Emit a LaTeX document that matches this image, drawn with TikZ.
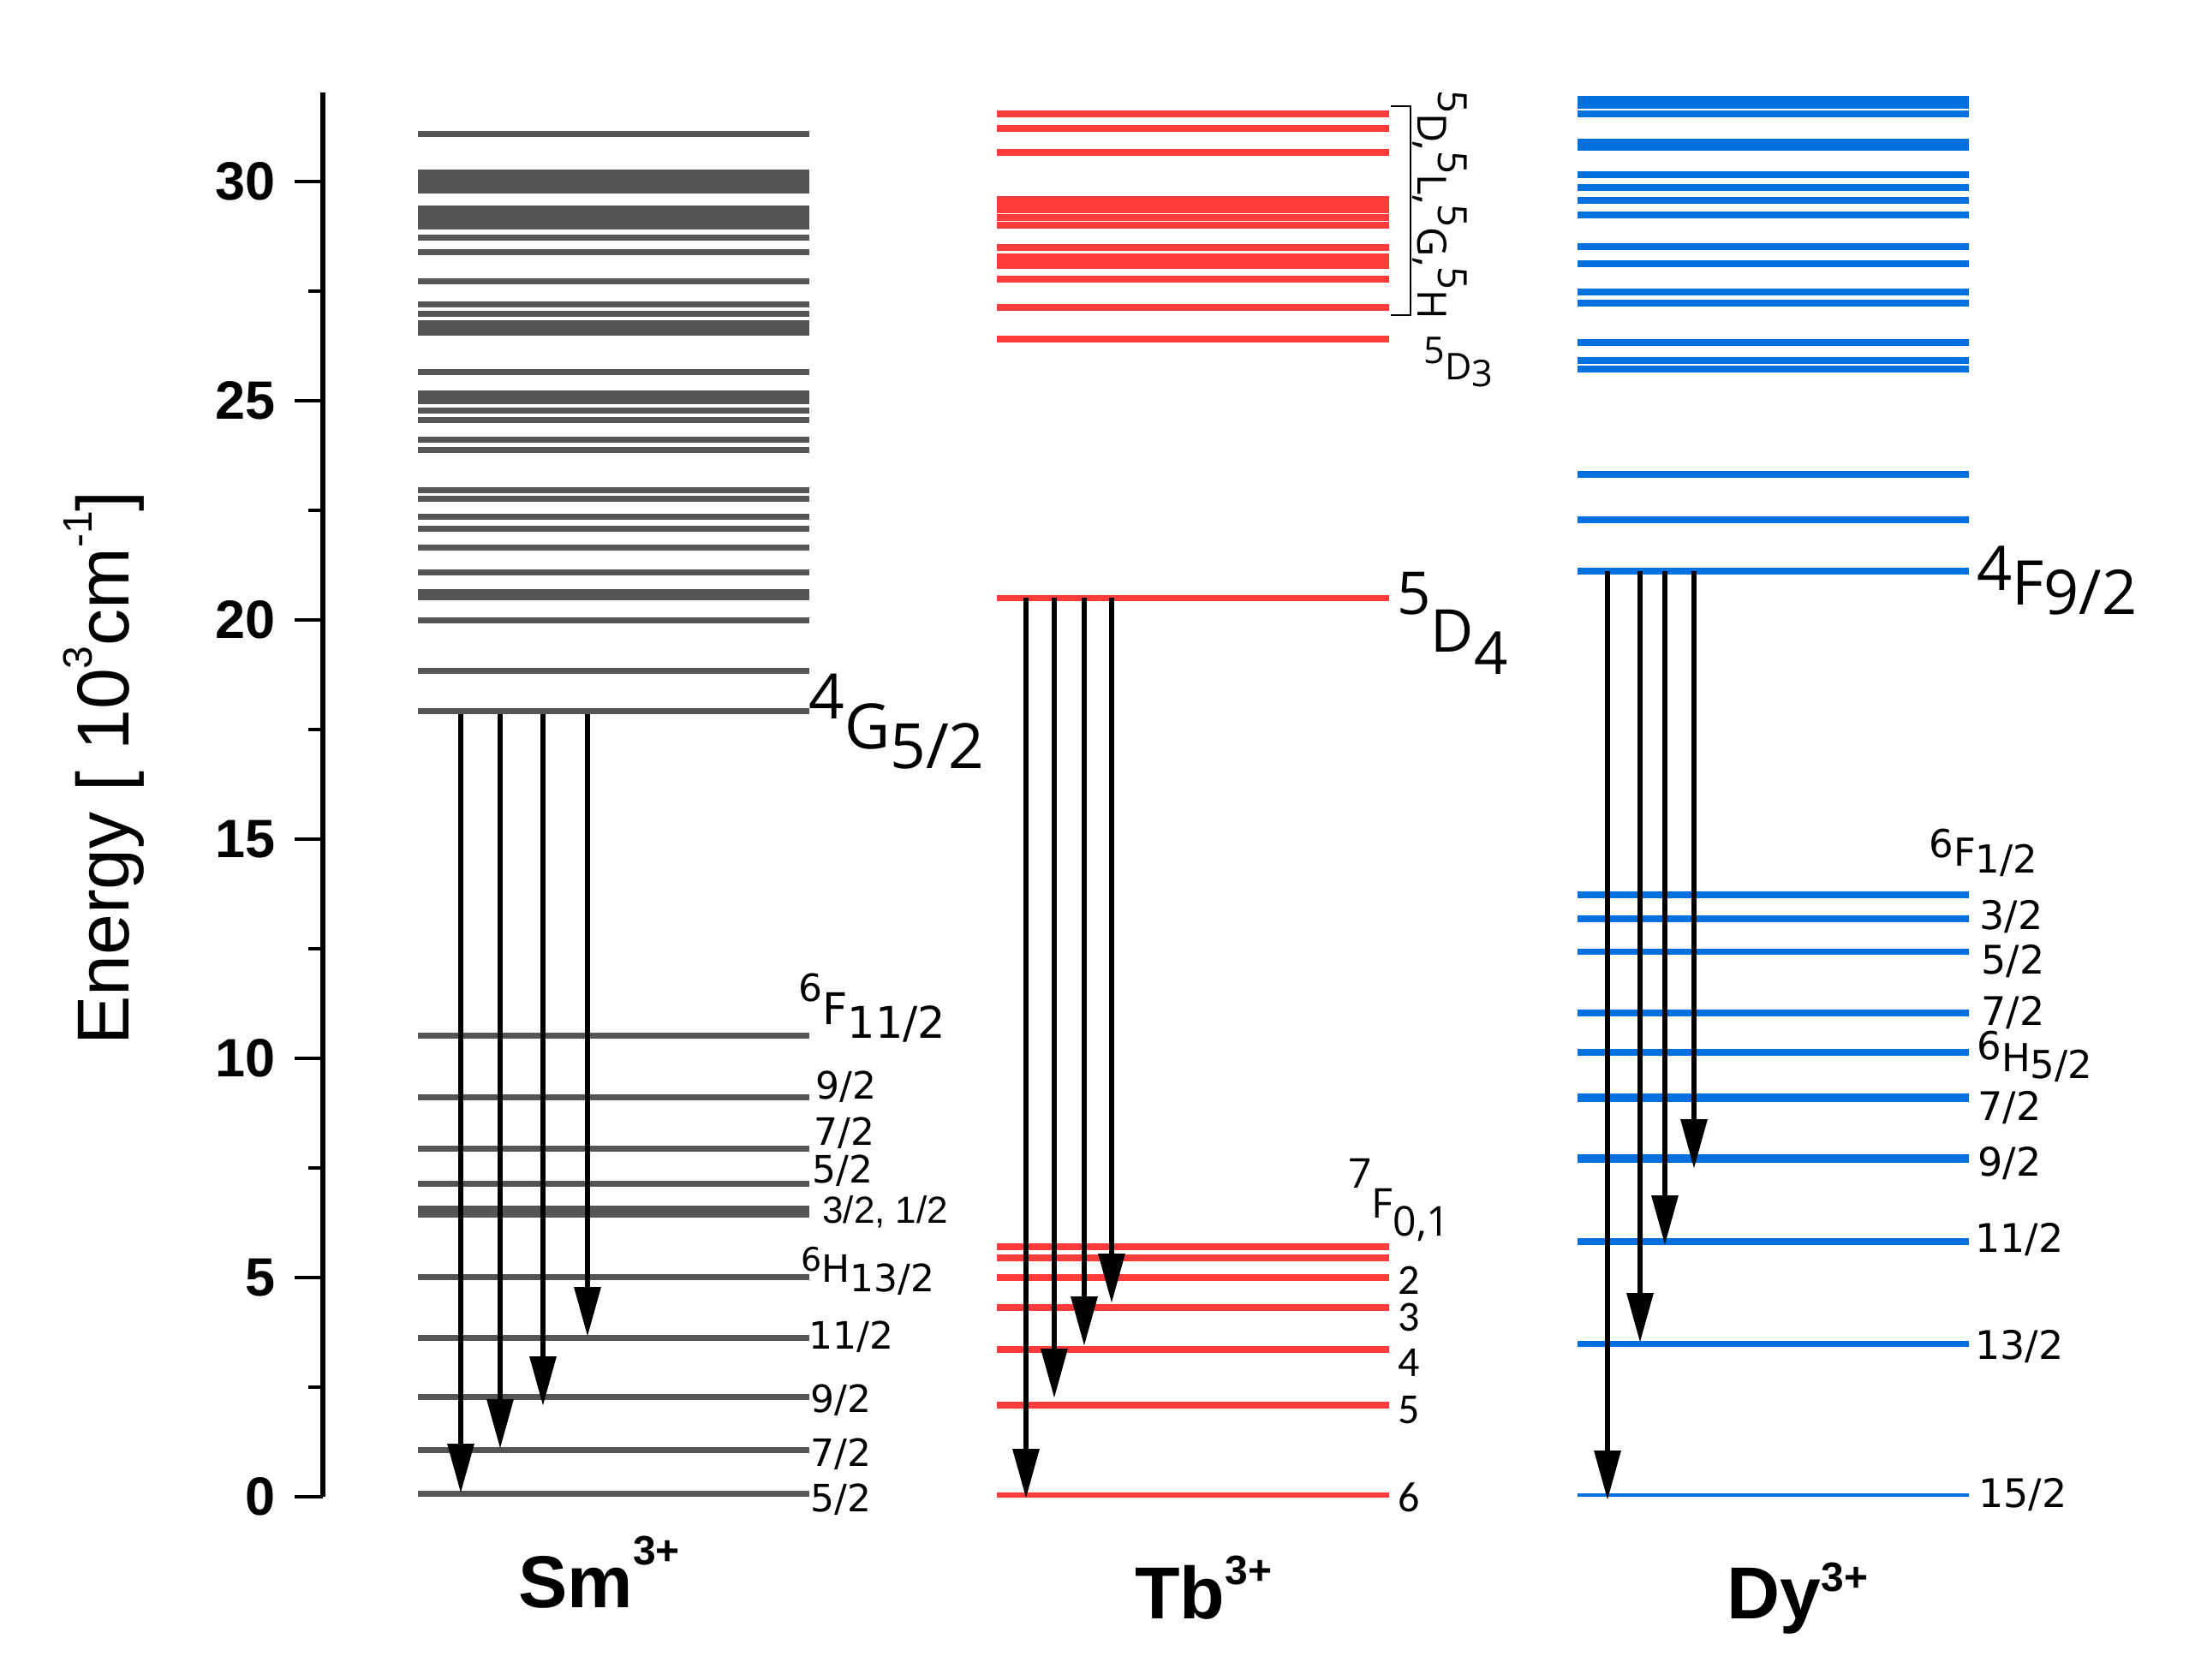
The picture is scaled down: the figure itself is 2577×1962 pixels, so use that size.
\documentclass[tikz,border=0pt]{standalone}
\usepackage{fontspec}
\usetikzlibrary{arrows.meta}
\newfontfamily\libsans{Liberation Sans}
\newfontfamily\opensans{Open Sans}
\newfontfamily\dvsans{DejaVu Sans}
\newfontfamily\carlito{Carlito}
\newcommand\fsz[1]{\fontsize{#1}{#1}\selectfont}
\definecolor{smgray}{RGB}{85,85,85}
\definecolor{tbred}{RGB}{255,60,60}
\definecolor{dyblue}{RGB}{0,112,224}
\begin{document}
\begin{tikzpicture}[x=0.5pt,y=-0.5pt,
  lab/.style={inner sep=0pt, anchor=base west},
  smlev/.style={draw=smgray, line width=3.5pt},
  tblev/.style={draw=tbred, line width=3.6pt},
  dylev/.style={draw=dyblue, line width=3.7pt},
  arr/.style={line width=3.2pt, -{Triangle[length=29pt,width=15pt]}},
  smalllab/.style={lab, font=\dvsans\fsz{22}},
  dylab/.style={lab, font=\dvsans\fsz{23}},
  tbnum/.style={lab, font=\carlito\fsz{25}},
  ionlab/.style={lab, font=\libsans\bfseries\fsz{43}},
  ticklab/.style={inner sep=0pt, anchor=east, font=\libsans\bfseries\fsz{31.5}}
]
\useasboundingbox (0,0) rectangle (2577,1962);

% ---------- axis ----------
\draw[line width=2.8pt] (377,108) -- (377,1748);
\foreach \v in {0,5,10,15,20,25,30} {
  \draw[line width=1.7pt] (344,{1748-51.2*\v}) -- (377,{1748-51.2*\v});
  \node[ticklab] (tick\v) at (322,{1748-51.2*\v}) {\v};
}
\foreach \v in {2.5,7.5,12.5,17.5,22.5,27.5}
  \draw[line width=1.7pt] (360,{1748-51.2*\v}) -- (377,{1748-51.2*\v});
\node[rotate=90, anchor=base, inner sep=0pt, font=\libsans\fsz{43}] (ylab) at (150,897)
  {Energy [ 10\raisebox{21.5pt}{\fsz{24}3}cm\raisebox{21.5pt}{\fsz{24}-1}]};

% ---------- Sm levels ----------
\foreach \y in {157,202,209,216,223,244,251,258,265,278,294.5,329,356,367,378,384,389,
  435,460,466,469,480,491,514,526,573,583,604,618,640,668.5,692,698,725,784,831,
  1209.5,1281,1341,1382,1411,1418,1491,1562,1631,1693,1744}
  \draw[smlev] (488,\y) -- (945,\y);

% ---------- Tb levels ----------
\foreach \y in {133,150,178,233,240,245,254,263,289,300,306,310,326,359,396,698.5,
  1456,1469,1492,1527,1576,1641}
  \draw[tblev] (1164,\y) -- (1622,\y);
\draw[tblev, line width=2.6pt] (1164,1746) -- (1622,1746);

% ---------- Dy levels ----------
\foreach \y in {116,123,133,166,172,204,219,234,251,288,308,341,354,400,421,431,554,607,667,
  1045,1073,1111.5,1183,1229,1450,1569.5}
  \draw[dylev] (1842,\y) -- (2299,\y);
\foreach \y in {1282,1353}
  \draw[dylev, line width=4.6pt] (1842,\y) -- (2299,\y);
\draw[dylev, line width=2.4pt] (1842,1746) -- (2299,1746);

% ---------- arrows ----------
\foreach \i/\x/\ye in {1/538/1744, 2/584/1692, 3/634/1642, 4/686/1561} {
  \coordinate (sms\i) at (\x,834);
  \coordinate (sme\i) at (\x,\ye);
  \draw[arr] (sms\i) -- (sme\i);
}
\foreach \i/\x/\ye in {1/1198/1750, 2/1231/1633, 3/1266/1572, 4/1298/1522} {
  \coordinate (tbs\i) at (\x,698);
  \coordinate (tbe\i) at (\x,\ye);
  \draw[arr] (tbs\i) -- (tbe\i);
}
\foreach \i/\x/\ye in {1/1877/1752, 2/1915/1568, 3/1944/1454, 4/1978/1365} {
  \coordinate (dys\i) at (\x,667);
  \coordinate (dye\i) at (\x,\ye);
  \draw[arr] (dys\i) -- (dye\i);
}

% ---------- Sm labels ----------
\node[lab, font=\opensans\fsz{36.5}] (smG) at (944,875) {\raisebox{17.5pt}{4}G\raisebox{-11.5pt}{5/2}};
\node[lab, font=\dvsans\fsz{25.5}] (smF) at (932,1196) {\raisebox{13.5pt}{\fsz{22}6}F\raisebox{-8pt}{11/2}};
\node[smalllab] (smF9) at (952,1283) {9/2};
\node[smalllab] (smF7) at (950,1337) {7/2};
\node[smalllab] (smF5) at (948,1381) {5/2};
\node[lab, font=\libsans\fsz{22}] (smF31) at (960,1428) {3/2, 1/2};
\node[lab, font=\dvsans\fsz{22}] (smH) at (935,1497) {\raisebox{6.5pt}{\fsz{19}6}H\raisebox{-5.5pt}{13/2}};
\node[smalllab] (smH11) at (944,1575) {11/2};
\node[smalllab] (smH9) at (946,1649) {9/2};
\node[smalllab] (smH7) at (946,1712) {7/2};
\node[smalllab] (smH5) at (946,1765) {5/2};

% ---------- Tb labels ----------
\draw[line width=1pt] (1624,124) -- (1647,124) -- (1647,368) -- (1624,368);
\node[rotate=-90, lab, font=\opensans\fsz{23.5}] (tbgrp) at (1655,105)
  {\raisebox{12pt}{5}D,\raisebox{12pt}{5}L,\raisebox{12pt}{5}G,\raisebox{12pt}{5}H};
\node[lab, font=\opensans\fsz{21.5}] (tbD3) at (1662,444) {\raisebox{9.5pt}{5}D\raisebox{-4pt}{3}};
\node[lab, font=\opensans\fsz{34.5}] (tbD4) at (1631,762) {\raisebox{22pt}{5}D\raisebox{-13pt}{4}};
\node[lab, font=\opensans\fsz{24}] (tbF) at (1574,1422) {\raisebox{17.5pt}{7}F\raisebox{-10.5pt}{0,1}};
\node[tbnum] (tb2) at (1632,1511) {2};
\node[tbnum] (tb3) at (1632,1554) {3};
\node[tbnum] (tb4) at (1632,1607) {4};
\node[tbnum] (tb5) at (1632,1662) {5};
\node[tbnum] (tb6) at (1632,1765) {6};

% ---------- Dy labels ----------
\node[lab, font=\opensans\fsz{36}] (dyF9) at (2308,707) {\raisebox{8.5pt}{4}F\raisebox{-5.5pt}{9/2}};
\node[lab, font=\dvsans\fsz{22.5}] (dyF1) at (2252,1012) {\raisebox{5.5pt}{6}F\raisebox{-4pt}{1/2}};
\node[dylab] (dyF3) at (2311,1085) {3/2};
\node[dylab] (dyF5) at (2313,1137) {5/2};
\node[dylab] (dyF7) at (2313,1197) {7/2};
\node[lab, font=\dvsans\fsz{22.5}] (dyH5) at (2308,1251) {\raisebox{7pt}{6}H\raisebox{-4pt}{5/2}};
\node[dylab] (dyH7) at (2309,1308) {7/2};
\node[dylab] (dyH9) at (2309,1373) {9/2};
\node[dylab] (dyH11) at (2306,1462) {11/2};
\node[dylab] (dyH13) at (2306,1587) {13/2};
\node[dylab] (dyH15) at (2310,1760) {15/2};

% ---------- ion labels ----------
\node[ionlab] (sm) at (605,1877) {Sm\raisebox{25pt}{\fsz{24}3+}};
\node[ionlab] (tb) at (1325,1890) {Tb\raisebox{20pt}{\fsz{24}3+}};
\node[ionlab] (dy) at (2016,1890) {Dy\raisebox{16pt}{\fsz{24}3+}};
\end{tikzpicture}
\end{document}
